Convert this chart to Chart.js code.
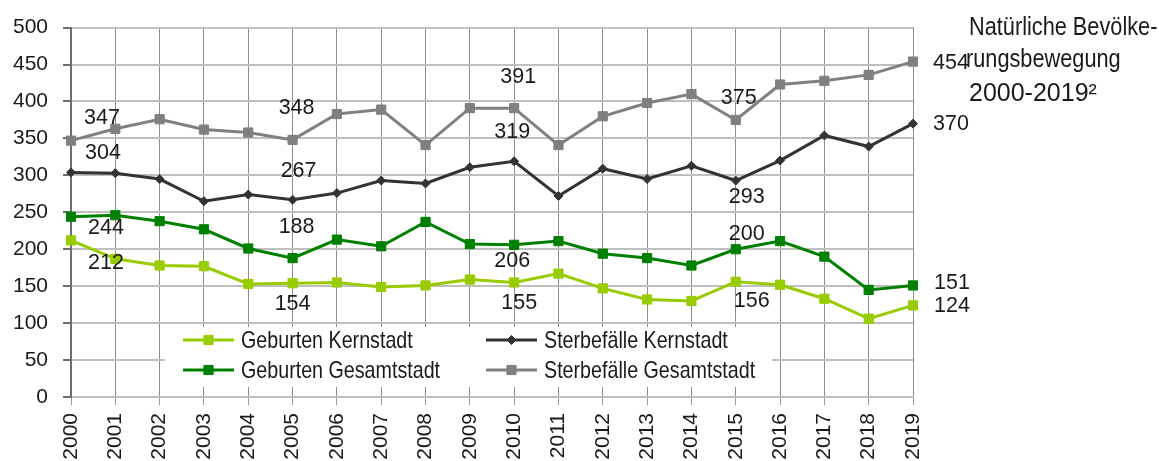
<!DOCTYPE html>
<html>
<head>
<meta charset="utf-8">
<style>
html,body{margin:0;padding:0;background:#ffffff;}
#wrap{width:1159px;height:461px;position:relative;overflow:hidden;}
</style>
<script src="https://cdn.jsdelivr.net/npm/chart.js@4.4.1/dist/chart.umd.min.js"></script>
</head>
<body>
<div id="wrap"><canvas id="c" width="1159" height="461"></canvas></div>
<script>
// ---------- data ----------
const years = ['2000','2001','2002','2003','2004','2005','2006','2007','2008','2009',
               '2010','2011','2012','2013','2014','2015','2016','2017','2018','2019'];
const geburtenKernstadt       = [212,187,178,177,153,154,155,149,151,159,155,167,147,132,130,156,152,133,106,124];
const sterbefaelleKernstadt   = [304,303,295,265,274,267,276,293,289,311,319,272,309,295,313,293,320,354,339,370];
const geburtenGesamtstadt     = [244,246,238,227,201,188,213,204,237,207,206,211,194,188,178,200,211,190,145,151];
const sterbefaelleGesamtstadt = [347,363,376,362,358,348,383,389,341,391,391,341,380,398,410,375,423,428,436,454];
const seriesNames = ['Geburten Kernstadt','Sterbefälle Kernstadt','Geburten Gesamtstadt','Sterbefälle Gesamtstadt'];
const labelledYears = ['2000','2005','2010','2015','2019'];
const yMin = 0, yMax = 500, yStep = 50;
const titleLines = ['Natürliche Bevölke-','rungsbewegung','2000-2019²'];

// ---------- styling ----------
const FONT = '"Liberation Sans", Arial, sans-serif';
const TEXT = '#1a1a1a';
const NARROW_SCALE = 0.82;
// label offsets (dx, dy, align) relative to the point, in order of labelledYears
const labelOffsets = [
  [[35,23,'center'],[0,21,'center'],[5,21,'center'],[16,19,'center'],[21,1,'left']],      // Geburten Kernstadt
  [[32,-19,'center'],[6,-29,'center'],[-2,-29,'center'],[11,17,'center'],[20,0,'left']],  // Sterbefälle Kernstadt
  [[35,11,'center'],[4,-31,'center'],[-2,16,'center'],[11,-15,'center'],[21,-2,'left']],  // Geburten Gesamtstadt
  [[31,-23,'center'],[4,-32,'center'],[4,-31,'center'],[3,-22,'center'],[20,1,'left']]    // Sterbefälle Gesamtstadt
];

function narrowText(ctx, text, x, y) {
  ctx.save();
  ctx.translate(x, y);
  ctx.scale(NARROW_SCALE, 1);
  ctx.fillText(text, 0, 0);
  ctx.restore();
}

function ds(label, data, color, style, radius) {
  return {
    label, data,
    borderColor: color, backgroundColor: color,
    borderWidth: 3, pointStyle: style, pointRadius: radius,
    pointBorderWidth: 1, pointBorderColor: color, pointBackgroundColor: color,
    tension: 0, fill: false
  };
}

const datasets = [
  ds(seriesNames[0], geburtenKernstadt, '#99cc00', 'rect', 6.5),
  ds(seriesNames[1], sterbefaelleKernstadt, '#333333', 'rectRot', 4.5),
  ds(seriesNames[2], geburtenGesamtstadt, '#008000', 'rect', 6.5),
  ds(seriesNames[3], sterbefaelleGesamtstadt, '#808080', 'rect', 6.5)
];

const valueLabels = {
  id: 'valueLabels',
  afterDatasetsDraw(chart) {
    const ctx = chart.ctx;
    ctx.save();
    ctx.font = '21.5px ' + FONT;
    ctx.fillStyle = TEXT;
    ctx.textBaseline = 'middle';
    chart.data.datasets.forEach((d, i) => {
      const meta = chart.getDatasetMeta(i);
      labelledYears.forEach((yr, k) => {
        const idx = chart.data.labels.indexOf(yr);
        const el = meta.data[idx];
        const o = labelOffsets[i][k];
        ctx.textAlign = o[2];
        ctx.fillText(String(d.data[idx]), el.x + o[0], el.y + o[1]);
      });
    });
    ctx.restore();
  }
};

const boxLegend = {
  id: 'boxLegend',
  afterDatasetsDraw(chart) {
    const ctx = chart.ctx;
    const a = chart.chartArea;
    const bx = a.left + 94, by = a.bottom - 70, bw = 607, bh = 60;
    ctx.save();
    ctx.fillStyle = '#ffffff';
    ctx.fillRect(bx, by, bw, bh);
    const cols = [bx + 18, bx + 321];
    const rows = [by + 13, by + 43];
    ctx.font = '24px ' + FONT;
    ctx.textBaseline = 'middle';
    ctx.textAlign = 'left';
    chart.data.datasets.forEach((d, i) => {
      const x = cols[i % 2], y = rows[Math.floor(i / 2)];
      ctx.strokeStyle = d.borderColor;
      ctx.lineWidth = 3;
      ctx.beginPath();
      ctx.moveTo(x, y); ctx.lineTo(x + 51, y);
      ctx.stroke();
      ctx.fillStyle = d.backgroundColor;
      ctx.strokeStyle = d.borderColor;
      ctx.lineWidth = 1;
      Chart.helpers.drawPoint(ctx, {pointStyle: d.pointStyle, radius: d.pointRadius, borderWidth: 1}, x + 25.5, y);
      ctx.fillStyle = TEXT;
      narrowText(ctx, d.label, x + 58, y + 1);
    });
    ctx.restore();
  }
};

const sideTitle = {
  id: 'sideTitle',
  afterDraw(chart) {
    const ctx = chart.ctx;
    ctx.save();
    ctx.fillStyle = TEXT;
    ctx.textAlign = 'left';
    ctx.textBaseline = 'alphabetic';
    const x = chart.chartArea.right + 56;
    const base = [35, 67, 101];
    ctx.font = '26.5px ' + FONT;
    narrowText(ctx, titleLines[0], x, base[0]);
    narrowText(ctx, titleLines[1], x - 3, base[1]);
    ctx.font = '25px ' + FONT;
    ctx.fillText(titleLines[2], x, base[2]);
    ctx.restore();
  }
};

new Chart(document.getElementById('c'), {
  type: 'line',
  data: { labels: years, datasets },
  options: {
    responsive: false,
    animation: false,
    devicePixelRatio: 1,
    layout: { padding: { left: 0, right: 246, top: 27, bottom: 0 } },
    plugins: { legend: { display: false }, tooltip: { enabled: false }, title: { display: false } },
    scales: {
      x: {
        offset: false,
        afterFit(s) { s.height = 64; },
        grid: { color: '#8c8c8c', lineWidth: 1, tickLength: 8, tickColor: '#9a9a9a', drawTicks: true },
        border: { color: '#bfbfbf', width: 2 },
        ticks: { color: TEXT, font: { family: FONT, size: 21 }, maxRotation: 90, minRotation: 90, padding: 8, autoSkip: false }
      },
      y: {
        min: yMin, max: yMax,
        afterFit(s) { s.width = 71; },
        grid: { color: '#bfbfbf', lineWidth: 2, tickLength: 8, tickColor: '#6e6e6e' },
        border: { color: '#6e6e6e', width: 2 },
        ticks: { stepSize: yStep, color: TEXT, font: { family: FONT, size: 21 }, padding: 15 }
      }
    }
  },
  plugins: [boxLegend, valueLabels, sideTitle]
});
</script>
</body>
</html>
